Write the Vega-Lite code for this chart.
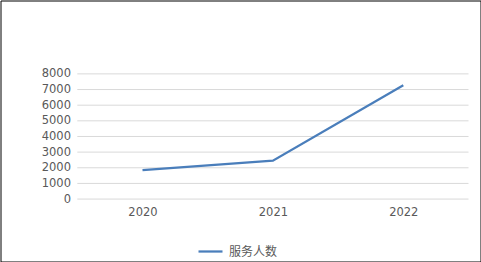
{
  "$schema": "https://vega.github.io/schema/vega-lite/v6.json",
  "width": 480,
  "height": 261,
  "autosize": {"type": "none"},
  "padding": {"left": 0.5, "top": 0.5, "right": 0.5, "bottom": 0.5},
  "background": "white",
  "config": {
    "view": {"stroke": "#000000", "strokeWidth": 1},
    "axis": {"labelFont": "DejaVu Sans", "labelFontSize": 11.5, "labelColor": "#595959"}
  },
  "datasets": {
    "series": [
      {"年份": 2020, "服务人数": 1850, "系列": "服务人数"},
      {"年份": 2021, "服务人数": 2450, "系列": "服务人数"},
      {"年份": 2022, "服务人数": 7270, "系列": "服务人数"}
    ],
    "gridlines": [
      {"v": 0}, {"v": 1000}, {"v": 2000}, {"v": 3000}, {"v": 4000},
      {"v": 5000}, {"v": 6000}, {"v": 7000}, {"v": 8000}
    ]
  },
  "layer": [
    {
      "data": {"name": "gridlines"},
      "mark": {"type": "rule", "color": "#d9d9d9", "strokeWidth": 1},
      "encoding": {
        "y": {
          "field": "v", "type": "quantitative",
          "scale": {"domain": [-3990, 12690], "nice": false, "zero": false},
          "axis": {"title": null, "orient": "left", "offset": -77, "values": [0, 1000, 2000, 3000, 4000, 5000, 6000, 7000, 8000], "format": "d", "domain": false, "ticks": false, "grid": false, "labelPadding": 7, "labelOverlap": false}
        },
        "x": {
          "datum": 2019.5, "type": "quantitative",
          "scale": {"domain": [2018.911, 2022.592], "nice": false, "zero": false},
          "axis": {"title": null, "orient": "bottom", "offset": -62.4, "values": [2020, 2021, 2022], "format": "d", "domain": false, "ticks": false, "grid": false, "labelPadding": 7, "labelFlush": false, "labelOverlap": false}
        },
        "x2": {"datum": 2022.5}
      }
    },
    {
      "data": {"name": "series"},
      "mark": {"type": "line", "strokeWidth": 2.25},
      "encoding": {
        "x": {
          "field": "年份", "type": "quantitative",
          "scale": {"domain": [2018.911, 2022.592], "nice": false, "zero": false},
          "axis": {"title": null, "orient": "bottom", "offset": -62.4, "values": [2020, 2021, 2022], "format": "d", "domain": false, "ticks": false, "grid": false, "labelPadding": 7, "labelFlush": false, "labelOverlap": false}
        },
        "y": {
          "field": "服务人数", "type": "quantitative",
          "scale": {"domain": [-3990, 12690], "nice": false, "zero": false},
          "axis": {"title": null, "orient": "left", "offset": -77, "values": [0, 1000, 2000, 3000, 4000, 5000, 6000, 7000, 8000], "format": "d", "domain": false, "ticks": false, "grid": false, "labelPadding": 7, "labelOverlap": false}
        },
        "color": {
          "field": "系列", "type": "nominal",
          "scale": {"range": ["#4A7EBB"]},
          "legend": {"title": null, "orient": "none", "legendX": 196.5, "legendY": 237.5, "symbolType": "stroke", "symbolSize": 576, "symbolStrokeWidth": 2.25, "labelFont": "Noto Sans CJK SC", "labelFontSize": 12, "labelColor": "#595959", "labelOffset": 5, "padding": 0}
        }
      }
    }
  ]
}
